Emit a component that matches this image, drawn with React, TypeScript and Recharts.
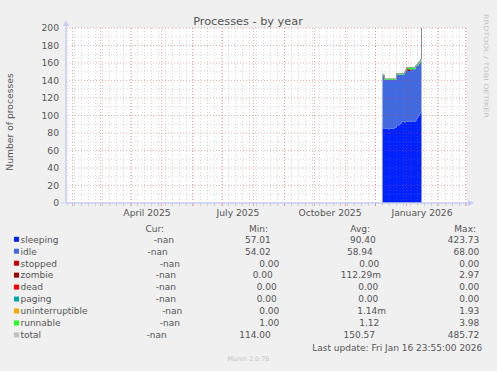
import React from "react";
import { ComposedChart, Area, Line, XAxis, YAxis, ReferenceLine } from "recharts";

const FONT = "DejaVu Sans, Verdana, sans-serif";
const TEXT = "#555555";
const AXIS = "#c6cbf3";
const MINOR = "rgba(128,128,128,0.3)";
const MAJOR = "rgba(220,60,60,0.42)";

// day numbers counted from 1 Feb 2025
const firstDay = 310; // 8 Dec 2025

const sleeping = [87, 85, 85, 85, 85, 85, 84, 85, 85, 85, 85, 85, 86, 86, 89, 89, 89, 90, 91, 93, 93, 93, 92, 93, 93, 93, 93, 93, 94, 93, 93, 93, 93, 94, 96, 98, 100, 102, 104, 104];
const idle = [59, 60, 56, 56, 56, 56, 57, 56, 56, 56, 56, 56, 55, 55, 58, 58, 58, 57, 56, 54, 54, 54, 57, 58, 59, 58, 58, 58, 59, 60, 60, 60, 60, 62, 61, 59, 59, 58, 58, 58];
const zombie = [0, 0, 0, 0, 0, 0, 0, 0, 0, 0, 0, 0, 0, 0, 0, 0, 0, 0, 0, 0, 0, 0, 0, 0, 2, 2, 2, 2, 0, 0, 0, 0, 0, 0, 0, 0, 0, 0, 0, 0];
const runnable = [1, 1, 1, 1, 1, 1, 1, 1, 1, 1, 1, 1, 1, 1, 1, 1, 1, 1, 1, 1, 1, 1, 1, 1, 1, 2, 2, 2, 2, 2, 2, 2, 2, 1, 1, 2, 2, 2, 2, 2];
const total = [147, 146, 142, 142, 142, 142, 142, 142, 142, 142, 142, 142, 142, 142, 148, 148, 148, 148, 148, 148, 148, 148, 150, 152, 155, 155, 155, 155, 155, 155, 155, 155, 155, 157, 158, 159, 161, 162, 164, 485.72];

const monthStarts = [0, 28, 59, 89, 120, 150, 181, 212, 242, 273, 303, 334, 365, 393];
const labelDays = [74.5, 165.5, 257.5, 349.5];
const labelText = ["April 2025", "July 2025", "October 2025", "January 2026"];
const yTicks = [0, 20, 40, 60, 80, 100, 120, 140, 160, 180, 200];
const yMinor = [10, 30, 50, 70, 90, 110, 130, 150, 170, 190];

const weekLines: number[] = [];
for (let w = -5; w <= 394; w += 7) weekLines.push(w);

const names = ["sleeping", "idle", "stopped", "zombie", "dead", "paging", "uninterruptible", "runnable", "total"];
const colours = ["#0022ff", "#4169e1", "#cc0000", "#990000", "#ff0000", "#00aaaa", "#ffa500", "#22ff22", "#c0c0c0"];
const curVals = ["-nan", "-nan", "-nan", "-nan", "-nan", "-nan", "-nan", "-nan", "-nan"];
const minVals = ["57.01", "54.02", "0.00", "0.00", "0.00", "0.00", "0.00", "1.00", "114.00"];
const avgVals = ["90.40", "58.94", "0.00", "112.29m", "0.00", "0.00", "1.14m", "1.12", "150.57"];
const maxVals = ["423.73", "68.00", "0.00", "2.97", "0.00", "0.00", "1.93", "3.98", "485.72"];

// right edges of legend columns (rrdtool tab layout)
const curX = [174, 167.7, 180, 176, 176, 176, 182.3, 180, 166.7];
const minX = [270.7, 270.7, 279.3, 272.7, 276.7, 276.7, 279.3, 279.3, 270.7];
const avgX = [375.7, 372.7, 379.3, 381, 378.3, 378.3, 386, 379.3, 375];
const maxX = 479.3;

const rows = sleeping.map((s, i) => ({
  d: firstDay + i,
  sleeping: s,
  idle: idle[i],
  zombie: zombie[i],
  runnable: runnable[i],
  total: total[i],
}));

const txt = { fontFamily: FONT, fill: TEXT };

export default function App() {
  return (
    <div style={{ position: "absolute", left: 0, top: 0, width: 497, height: 371, background: "#f0f0f0" }}>
      <div style={{ position: "absolute", left: 66, top: 28, width: 401, height: 175, background: "#ffffff" }} />
      <div style={{ position: "absolute", left: 0, top: 0 }}>
        <ComposedChart width={497} height={371} data={rows} margin={{ top: 28, right: 30, bottom: 148, left: 0 }}>
          <XAxis
            dataKey="d"
            type="number"
            domain={[-6.5, 394.5]}
            allowDataOverflow
            ticks={labelDays}
            interval={0}
            tickFormatter={(v: number) => labelText[labelDays.indexOf(v)] ?? ""}
            height={20}
            tickLine={false}
            tickSize={0}
            tickMargin={6}
            axisLine={{ stroke: AXIS }}
            tick={{ fontSize: 9.2, ...txt }}
          />
          <YAxis
            type="number"
            domain={[0, 200]}
            allowDataOverflow
            ticks={yTicks}
            interval={0}
            width={66}
            tickLine={false}
            tickSize={0}
            tickMargin={7}
            axisLine={{ stroke: AXIS }}
            tick={{ fontSize: 9.2, ...txt }}
          />
          <Area dataKey="sleeping" stackId="p" type="stepAfter" fill="#0022ff" fillOpacity={1} stroke="none" isAnimationActive={false} />
          <Area dataKey="idle" stackId="p" type="stepAfter" fill="#4169e1" fillOpacity={1} stroke="none" isAnimationActive={false} />
          <Area dataKey="zombie" stackId="p" type="stepAfter" fill="#990000" fillOpacity={1} stroke="none" isAnimationActive={false} />
          <Area dataKey="runnable" stackId="p" type="stepAfter" fill="#22ff22" fillOpacity={1} stroke="none" isAnimationActive={false} />
          <Line dataKey="total" type="stepAfter" stroke="#909090" strokeWidth={1} dot={false} isAnimationActive={false} />
          {yMinor.map((v) => (
            <ReferenceLine key={"ym" + v} y={v} stroke={MINOR} strokeDasharray="1 2" />
          ))}
          {weekLines.map((w) => (
            <ReferenceLine key={"xw" + w} x={w} stroke={MINOR} strokeDasharray="1 2" />
          ))}
          {weekLines.map((w) => (
            <ReferenceLine key={"tw" + w} segment={[{ x: w, y: 0 }, { x: w, y: -3.4 }]} stroke={MINOR} ifOverflow="visible" />
          ))}
          {yTicks.slice(1).map((v) => (
            <ReferenceLine key={"yM" + v} y={v} stroke={MAJOR} strokeDasharray="1 2" />
          ))}
          {monthStarts.map((m) => (
            <ReferenceLine key={"xM" + m} x={m} stroke={MAJOR} strokeDasharray="1 2" />
          ))}
          {monthStarts.map((m) => (
            <ReferenceLine key={"tM" + m} segment={[{ x: m, y: 0 }, { x: m, y: -3.4 }]} stroke={MAJOR} ifOverflow="visible" />
          ))}
        </ComposedChart>
      </div>
      <svg width={497} height={371} style={{ position: "absolute", left: 0, top: 0, pointerEvents: "none" }}>
        <line x1={66} y1={203} x2={66} y2={24} stroke={AXIS} />
        <polygon points="63,26 69,26 66,20" fill={AXIS} />
        <line x1={62} y1={203} x2={470} y2={203} stroke={AXIS} />
        <polygon points="468,200 468,206 474,203" fill={AXIS} />
        <text x={248} y={24.5} textAnchor="middle" fontSize={11.3} {...txt}>Processes - by year</text>
        <text transform="translate(13.3,122) rotate(-90)" textAnchor="middle" fontSize={9.2} {...txt}>Number of processes</text>
        <text transform="translate(483.5,66) rotate(90)" textAnchor="middle" fontSize={6} fontFamily={FONT} fill="#c0c0c0" textLength={104} lengthAdjust="spacingAndGlyphs">RRDTOOL / TOBI OETIKER</text>
        <text x={164} y={231.5} textAnchor="end" fontSize={9} {...txt}>Cur:</text>
        <text x={268} y={231.5} textAnchor="end" fontSize={9} {...txt}>Min:</text>
        <text x={370} y={231.5} textAnchor="end" fontSize={9} {...txt}>Avg:</text>
        <text x={476} y={231.5} textAnchor="end" fontSize={9} {...txt}>Max:</text>
        {names.map((n, i) => {
          const cy = 239.3 + 11.95 * i;
          return (
            <g key={n}>
              <rect x={14} y={cy - 2.5} width={5} height={5} fill={colours[i]} />
              <text x={20.5} y={cy + 3.3} fontSize={9} {...txt}>{n}</text>
              <text x={curX[i]} y={cy + 3.3} textAnchor="end" fontSize={9} {...txt}>{curVals[i]}</text>
              <text x={minX[i]} y={cy + 3.3} textAnchor="end" fontSize={9} {...txt}>{minVals[i]}</text>
              <text x={avgX[i]} y={cy + 3.3} textAnchor="end" fontSize={9} {...txt}>{avgVals[i]}</text>
              <text x={maxX} y={cy + 3.3} textAnchor="end" fontSize={9} {...txt}>{maxVals[i]}</text>
            </g>
          );
        })}
        <text x={482.3} y={350.6} textAnchor="end" fontSize={9} {...txt}>Last update: Fri Jan 16 23:55:00 2026</text>
        <text x={248.4} y={361.3} textAnchor="middle" fontSize={6.4} fontFamily={FONT} fill="#c4c4c4">Munin 2.0.76</text>
      </svg>
    </div>
  );
}
